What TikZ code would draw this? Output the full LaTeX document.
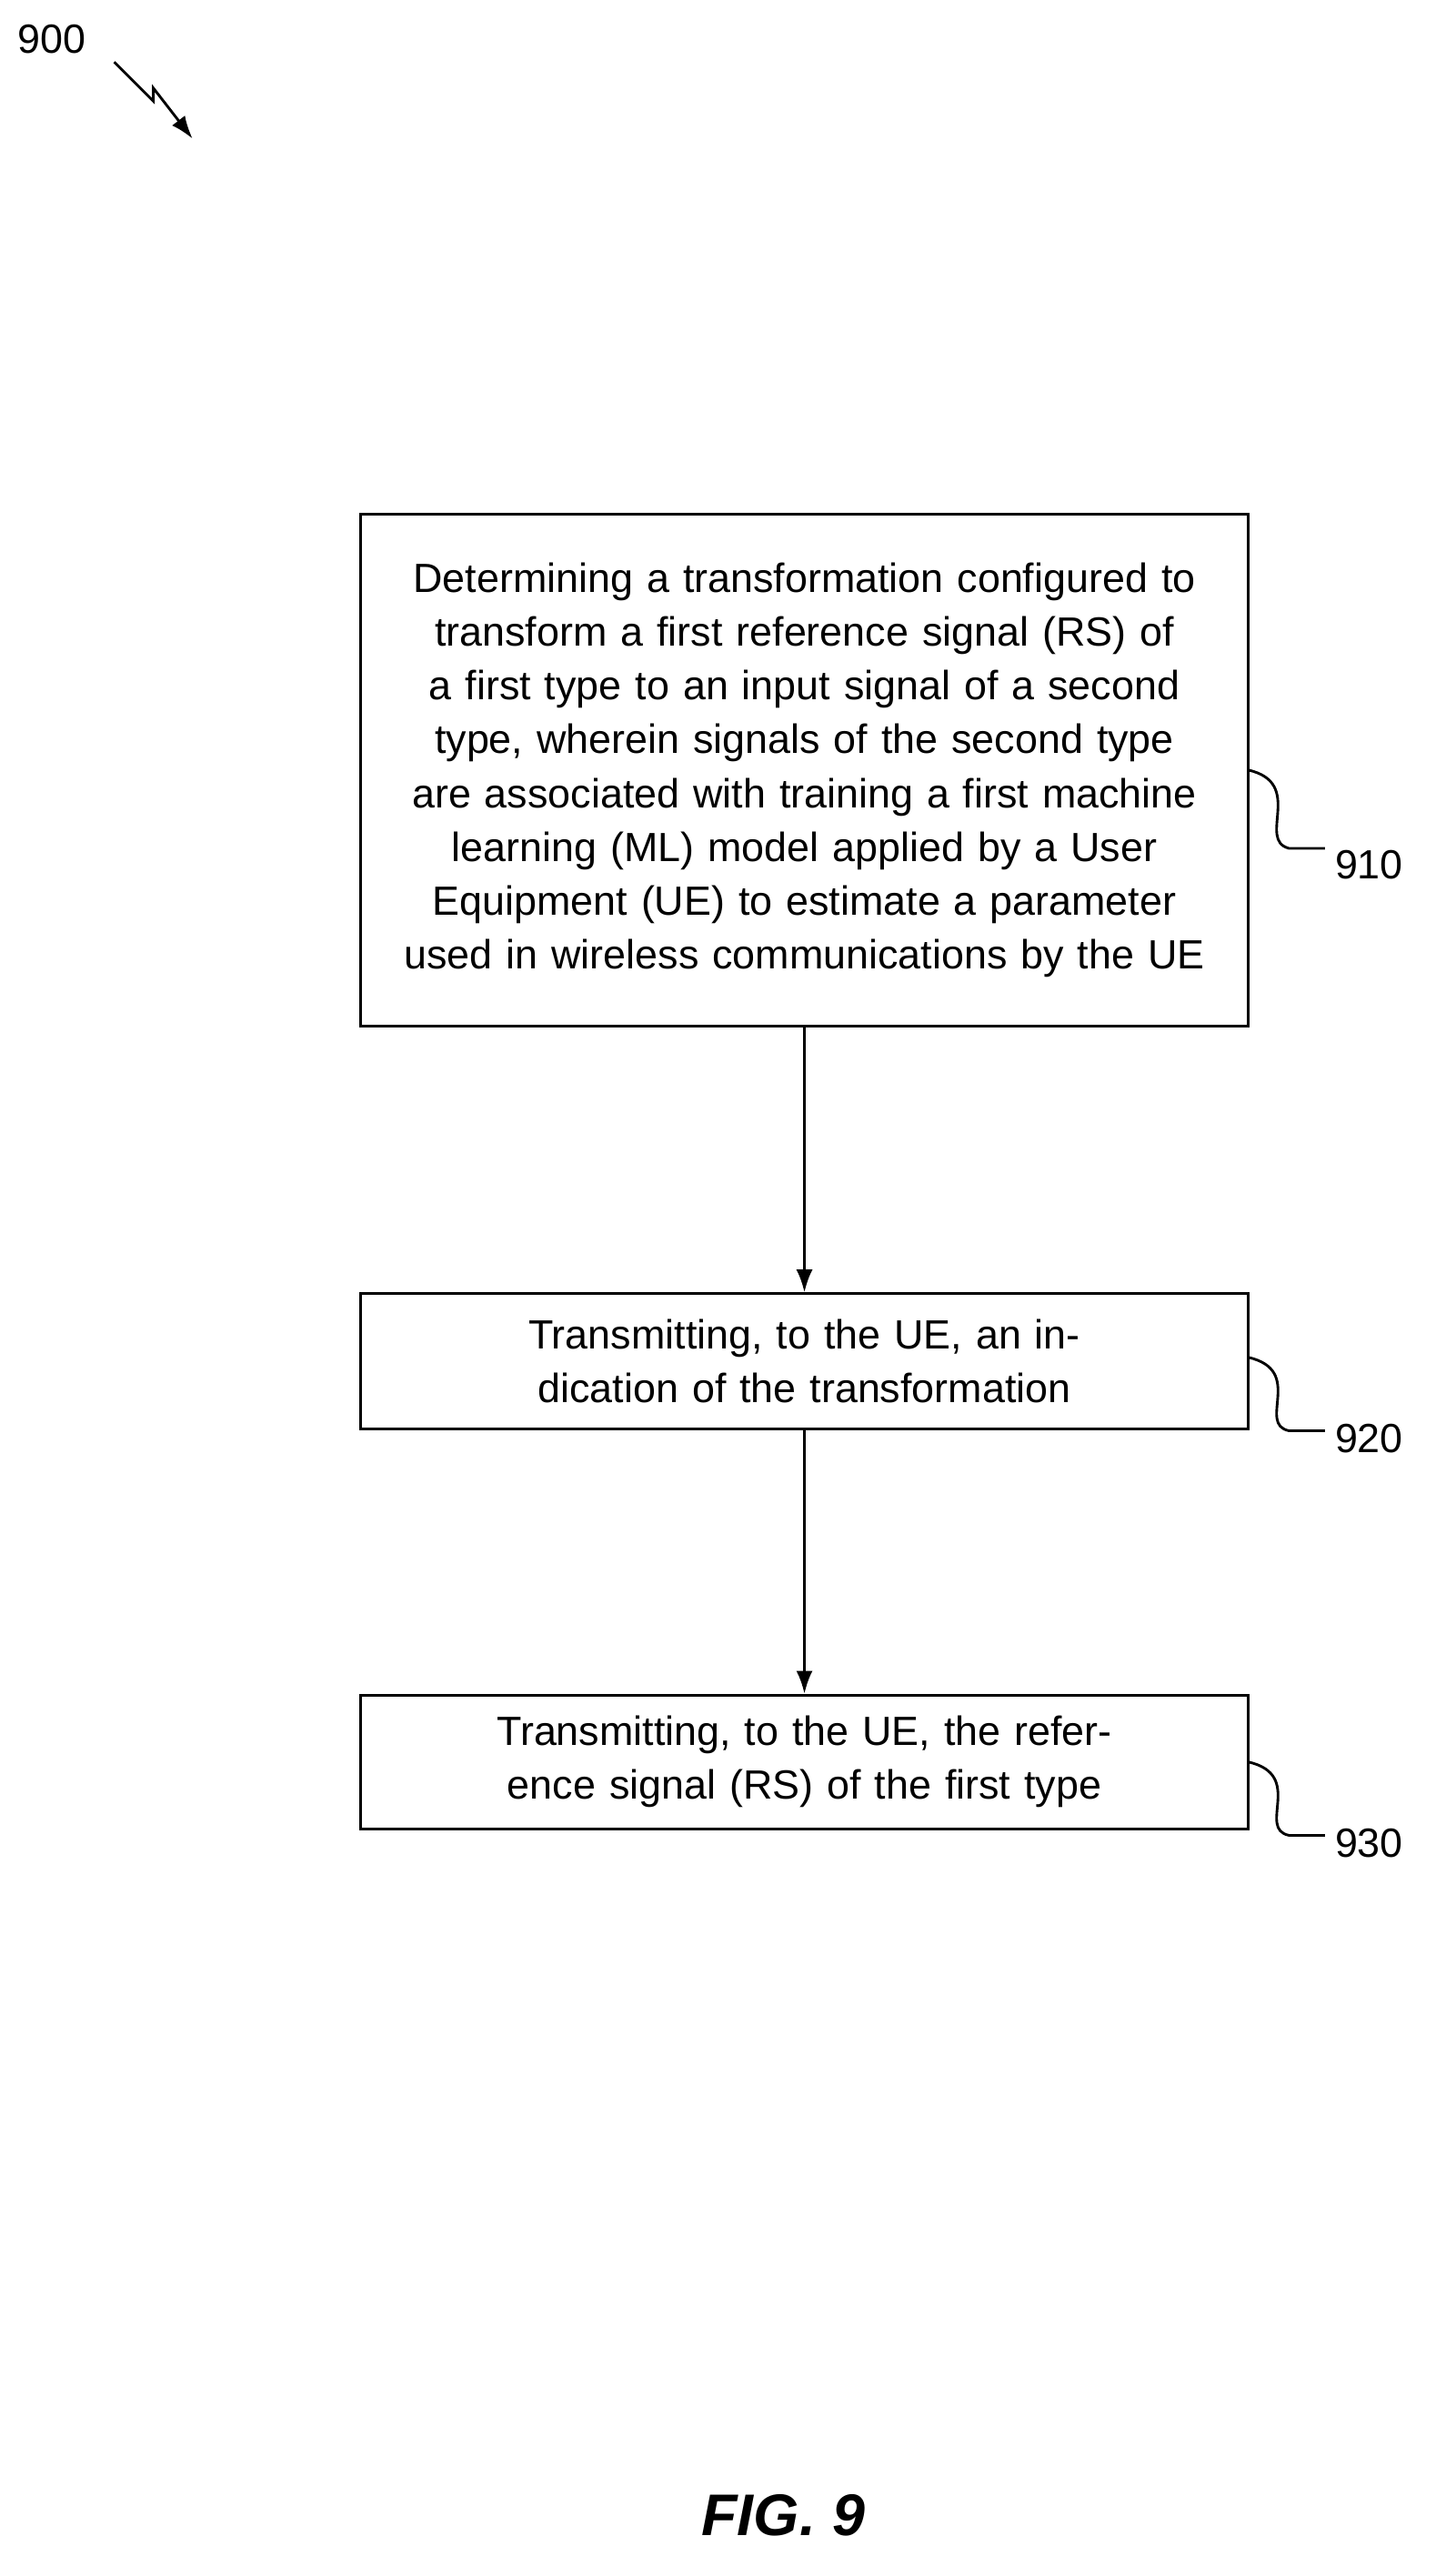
\documentclass[tikz,border=0pt]{standalone}
\usepackage{fontspec}
\setmainfont{Liberation Sans}
\usetikzlibrary{arrows.meta}
\begin{document}
\begin{tikzpicture}[x=1pt,y=-1pt,
  box/.style={draw,line width=1.6pt,minimum width=544pt,text width=520pt,align=center,font=\fontsize{25}{33}\selectfont,inner sep=0pt},
  lbl/.style={font=\fontsize{25}{30}\selectfont,anchor=west,inner sep=0pt},
  lead/.style={line width=1.6pt},
  arr/.style={line width=1.6pt,-{Latex[length=14pt,width=10pt]}}]
\useasboundingbox (0,0) rectangle (880,1579);
\node[box,minimum height=314pt] (b1) at (493,472) {Determining a transformation configured to transform a first reference signal (RS) of a first type to an input signal of a second type, wherein signals of the second type are associated with training a first machine learning (ML) model applied by a User Equipment (UE) to estimate a parameter used in wireless communications by the UE};
\node[box,minimum height=83pt] (b2) at (493,834.5) {Transmitting, to the UE, an indication of the transformation};
\node[box,minimum height=82pt] (b3) at (493,1080) {Transmitting, to the UE, the reference signal (RS) of the first type};
\draw[arr] (b1.south) -- (b2.north);
\draw[arr] (b2.south) -- (b3.north);
\node[lbl] (l1) at (818,530) {910};
\node[lbl] (l2) at (818,882) {920};
\node[lbl] (l3) at (818,1130) {930};
\draw[lead] (765,472) .. controls (800,480) and (770,515) .. (790,520) -- (812,520);
\draw[lead] (765,832) .. controls (800,840) and (770,873) .. (790,877) -- (812,877);
\draw[lead] (765,1080) .. controls (800,1088) and (770,1121) .. (790,1125) -- (812,1125);
\node[font=\fontsize{25}{30}\selectfont,inner sep=0pt] (n900) at (32,24) {900};
\coordinate (z0) at (70,38);
\coordinate (z1) at (118,85);
\draw[line width=1.6pt,-{Latex[length=14pt,width=10pt]}] (z0) -- (94,62) -- (94,54) -- (z1);
\node[font=\bfseries\itshape\fontsize{36}{40}\selectfont,inner sep=0pt] (fig) at (480,1542) {FIG. 9};
\end{tikzpicture}
\end{document}
